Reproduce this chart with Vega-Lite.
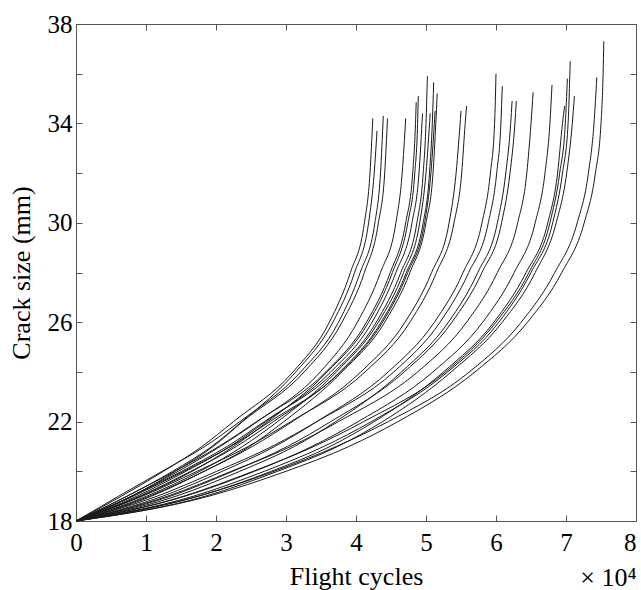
{
"$schema": "https://vega.github.io/schema/vega-lite/v6.json",
"width": 560, "height": 497,
"autosize": {"type": "none"},
"padding": {"left": 76, "top": 24, "right": 5, "bottom": 69},
"background": "white",
"config": {
  "view": {"stroke": "#555", "strokeWidth": 1},
  "font": "Liberation Serif",
  "axis": {"grid": false, "labelFont": "Liberation Serif", "titleFont": "Liberation Serif", "labelFontSize": 25, "titleFontSize": 26, "labelColor": "black", "titleColor": "black", "titleFontWeight": "normal", "domainColor": "#555", "tickColor": "#555", "tickSize": -6}
},
"data": {"values": [
{"c":1,"n":0,"a":18},{"c":1,"n":0.65,"a":19},{"c":1,"n":1.25,"a":20},{"c":1,"n":1.80,"a":21},{"c":1,"n":2.25,"a":22},{"c":1,"n":3.10,"a":24},{"c":1,"n":3.62,"a":26},{"c":1,"n":3.92,"a":28},{"c":1,"n":4.12,"a":30},{"c":1,"n":4.20,"a":32},{"c":1,"n":4.24,"a":34.2},
{"c":2,"n":0,"a":18},{"c":2,"n":0.73,"a":19},{"c":2,"n":1.38,"a":20},{"c":2,"n":1.94,"a":21},{"c":2,"n":2.37,"a":22},{"c":2,"n":3.14,"a":24},{"c":2,"n":3.67,"a":26},{"c":2,"n":3.98,"a":28},{"c":2,"n":4.18,"a":30},{"c":2,"n":4.26,"a":32},{"c":2,"n":4.30,"a":33.7},
{"c":3,"n":0,"a":18},{"c":3,"n":0.61,"a":19},{"c":3,"n":1.23,"a":20},{"c":3,"n":1.84,"a":21},{"c":3,"n":2.34,"a":22},{"c":3,"n":3.21,"a":24},{"c":3,"n":3.75,"a":26},{"c":3,"n":4.06,"a":28},{"c":3,"n":4.27,"a":30},{"c":3,"n":4.35,"a":32},{"c":3,"n":4.39,"a":34.3},
{"c":4,"n":0,"a":18},{"c":4,"n":0.80,"a":19},{"c":4,"n":1.42,"a":20},{"c":4,"n":1.96,"a":21},{"c":4,"n":2.38,"a":22},{"c":4,"n":3.26,"a":24},{"c":4,"n":3.80,"a":26},{"c":4,"n":4.12,"a":28},{"c":4,"n":4.32,"a":30},{"c":4,"n":4.41,"a":32},{"c":4,"n":4.45,"a":34.2},
{"c":5,"n":0,"a":18},{"c":5,"n":0.79,"a":19},{"c":5,"n":1.46,"a":20},{"c":5,"n":2.06,"a":21},{"c":5,"n":2.59,"a":22},{"c":5,"n":3.49,"a":24},{"c":5,"n":4.02,"a":26},{"c":5,"n":4.35,"a":28},{"c":5,"n":4.57,"a":30},{"c":5,"n":4.66,"a":32},{"c":5,"n":4.71,"a":34.2},
{"c":6,"n":0,"a":18},{"c":6,"n":0.73,"a":19},{"c":6,"n":1.41,"a":20},{"c":6,"n":2.04,"a":21},{"c":6,"n":2.58,"a":22},{"c":6,"n":3.57,"a":24},{"c":6,"n":4.15,"a":26},{"c":6,"n":4.49,"a":28},{"c":6,"n":4.71,"a":30},{"c":6,"n":4.81,"a":32},{"c":6,"n":4.85,"a":34},{"c":6,"n":4.86,"a":34.85},
{"c":7,"n":0,"a":18},{"c":7,"n":0.93,"a":19},{"c":7,"n":1.66,"a":20},{"c":7,"n":2.25,"a":21},{"c":7,"n":2.74,"a":22},{"c":7,"n":3.59,"a":24},{"c":7,"n":4.18,"a":26},{"c":7,"n":4.52,"a":28},{"c":7,"n":4.74,"a":30},{"c":7,"n":4.84,"a":32},{"c":7,"n":4.88,"a":34},{"c":7,"n":4.89,"a":35.1},
{"c":8,"n":0,"a":18},{"c":8,"n":0.87,"a":19},{"c":8,"n":1.57,"a":20},{"c":8,"n":2.20,"a":21},{"c":8,"n":2.71,"a":22},{"c":8,"n":3.64,"a":24},{"c":8,"n":4.23,"a":26},{"c":8,"n":4.57,"a":28},{"c":8,"n":4.80,"a":30},{"c":8,"n":4.90,"a":32},{"c":8,"n":4.95,"a":34.4},
{"c":9,"n":0,"a":18},{"c":9,"n":0.80,"a":19},{"c":9,"n":1.51,"a":20},{"c":9,"n":2.16,"a":21},{"c":9,"n":2.69,"a":22},{"c":9,"n":3.69,"a":24},{"c":9,"n":4.29,"a":26},{"c":9,"n":4.64,"a":28},{"c":9,"n":4.87,"a":30},{"c":9,"n":4.96,"a":32},{"c":9,"n":5.00,"a":34},{"c":9,"n":5.02,"a":35.9},
{"c":10,"n":0,"a":18},{"c":10,"n":1.01,"a":19},{"c":10,"n":1.77,"a":20},{"c":10,"n":2.38,"a":21},{"c":10,"n":2.88,"a":22},{"c":10,"n":3.72,"a":24},{"c":10,"n":4.32,"a":26},{"c":10,"n":4.68,"a":28},{"c":10,"n":4.91,"a":30},{"c":10,"n":5.00,"a":32},{"c":10,"n":5.06,"a":34.4},
{"c":11,"n":0,"a":18},{"c":11,"n":0.91,"a":19},{"c":11,"n":1.64,"a":20},{"c":11,"n":2.29,"a":21},{"c":11,"n":2.82,"a":22},{"c":11,"n":3.77,"a":24},{"c":11,"n":4.36,"a":26},{"c":11,"n":4.72,"a":28},{"c":11,"n":4.96,"a":30},{"c":11,"n":5.05,"a":32},{"c":11,"n":5.09,"a":34},{"c":11,"n":5.11,"a":35.65},
{"c":12,"n":0,"a":18},{"c":12,"n":0.82,"a":19},{"c":12,"n":1.54,"a":20},{"c":12,"n":2.21,"a":21},{"c":12,"n":2.77,"a":22},{"c":12,"n":3.78,"a":24},{"c":12,"n":4.38,"a":26},{"c":12,"n":4.74,"a":28},{"c":12,"n":4.98,"a":30},{"c":12,"n":5.07,"a":32},{"c":12,"n":5.13,"a":34.5},
{"c":13,"n":0,"a":18},{"c":13,"n":1.08,"a":19},{"c":13,"n":1.83,"a":20},{"c":13,"n":2.48,"a":21},{"c":13,"n":2.97,"a":22},{"c":13,"n":3.80,"a":24},{"c":13,"n":4.41,"a":26},{"c":13,"n":4.77,"a":28},{"c":13,"n":5.00,"a":30},{"c":13,"n":5.10,"a":32},{"c":13,"n":5.14,"a":34},{"c":13,"n":5.16,"a":35.2},
{"c":14,"n":0,"a":18},{"c":14,"n":1.05,"a":19},{"c":14,"n":1.83,"a":20},{"c":14,"n":2.52,"a":21},{"c":14,"n":3.09,"a":22},{"c":14,"n":4.07,"a":24},{"c":14,"n":4.70,"a":26},{"c":14,"n":5.08,"a":28},{"c":14,"n":5.33,"a":30},{"c":14,"n":5.43,"a":32},{"c":14,"n":5.50,"a":34.5},
{"c":15,"n":0,"a":18},{"c":15,"n":0.95,"a":19},{"c":15,"n":1.73,"a":20},{"c":15,"n":2.46,"a":21},{"c":15,"n":3.07,"a":22},{"c":15,"n":4.13,"a":24},{"c":15,"n":4.77,"a":26},{"c":15,"n":5.15,"a":28},{"c":15,"n":5.40,"a":30},{"c":15,"n":5.51,"a":32},{"c":15,"n":5.56,"a":34},{"c":15,"n":5.58,"a":34.7},
{"c":16,"n":0,"a":18},{"c":16,"n":1.24,"a":19},{"c":16,"n":2.09,"a":20},{"c":16,"n":2.84,"a":21},{"c":16,"n":3.44,"a":22},{"c":16,"n":4.46,"a":24},{"c":16,"n":5.12,"a":26},{"c":16,"n":5.53,"a":28},{"c":16,"n":5.80,"a":30},{"c":16,"n":5.92,"a":32},{"c":16,"n":5.98,"a":34},{"c":16,"n":6.00,"a":36.0},
{"c":17,"n":0,"a":18},{"c":17,"n":1.16,"a":19},{"c":17,"n":2.01,"a":20},{"c":17,"n":2.80,"a":21},{"c":17,"n":3.44,"a":22},{"c":17,"n":4.54,"a":24},{"c":17,"n":5.20,"a":26},{"c":17,"n":5.61,"a":28},{"c":17,"n":5.89,"a":30},{"c":17,"n":6.01,"a":32},{"c":17,"n":6.07,"a":34},{"c":17,"n":6.09,"a":35.5},
{"c":18,"n":0,"a":18},{"c":18,"n":1.43,"a":19},{"c":18,"n":2.34,"a":20},{"c":18,"n":3.12,"a":21},{"c":18,"n":3.71,"a":22},{"c":18,"n":4.65,"a":24},{"c":18,"n":5.32,"a":26},{"c":18,"n":5.74,"a":28},{"c":18,"n":6.02,"a":30},{"c":18,"n":6.14,"a":32},{"c":18,"n":6.21,"a":34},{"c":18,"n":6.23,"a":34.9},
{"c":19,"n":0,"a":18},{"c":19,"n":1.35,"a":19},{"c":19,"n":2.24,"a":20},{"c":19,"n":3.02,"a":21},{"c":19,"n":3.64,"a":22},{"c":19,"n":4.69,"a":24},{"c":19,"n":5.37,"a":26},{"c":19,"n":5.80,"a":28},{"c":19,"n":6.08,"a":30},{"c":19,"n":6.20,"a":32},{"c":19,"n":6.27,"a":34},{"c":19,"n":6.29,"a":34.9},
{"c":20,"n":0,"a":18},{"c":20,"n":1.31,"a":19},{"c":20,"n":2.22,"a":20},{"c":20,"n":3.07,"a":21},{"c":20,"n":3.75,"a":22},{"c":20,"n":4.88,"a":24},{"c":20,"n":5.58,"a":26},{"c":20,"n":6.02,"a":28},{"c":20,"n":6.31,"a":30},{"c":20,"n":6.44,"a":32},{"c":20,"n":6.50,"a":34},{"c":20,"n":6.53,"a":35.25},
{"c":21,"n":0,"a":18},{"c":21,"n":1.56,"a":19},{"c":21,"n":2.55,"a":20},{"c":21,"n":3.37,"a":21},{"c":21,"n":4.03,"a":22},{"c":21,"n":5.10,"a":24},{"c":21,"n":5.81,"a":26},{"c":21,"n":6.26,"a":28},{"c":21,"n":6.56,"a":30},{"c":21,"n":6.70,"a":32},{"c":21,"n":6.77,"a":34},{"c":21,"n":6.80,"a":35.55},
{"c":22,"n":0,"a":18},{"c":22,"n":1.75,"a":19},{"c":22,"n":2.79,"a":20},{"c":22,"n":3.63,"a":21},{"c":22,"n":4.26,"a":22},{"c":22,"n":5.25,"a":24},{"c":22,"n":5.97,"a":26},{"c":22,"n":6.43,"a":28},{"c":22,"n":6.74,"a":30},{"c":22,"n":6.88,"a":32},{"c":22,"n":6.95,"a":34},{"c":22,"n":6.98,"a":34.7},
{"c":23,"n":0,"a":18},{"c":23,"n":1.54,"a":19},{"c":23,"n":2.53,"a":20},{"c":23,"n":3.40,"a":21},{"c":23,"n":4.11,"a":22},{"c":23,"n":5.28,"a":24},{"c":23,"n":6.00,"a":26},{"c":23,"n":6.47,"a":28},{"c":23,"n":6.77,"a":30},{"c":23,"n":6.91,"a":32},{"c":23,"n":6.99,"a":34},{"c":23,"n":7.02,"a":35.8},
{"c":24,"n":0,"a":18},{"c":24,"n":1.68,"a":19},{"c":24,"n":2.69,"a":20},{"c":24,"n":3.54,"a":21},{"c":24,"n":4.22,"a":22},{"c":24,"n":5.31,"a":24},{"c":24,"n":6.04,"a":26},{"c":24,"n":6.50,"a":28},{"c":24,"n":6.81,"a":30},{"c":24,"n":6.95,"a":32},{"c":24,"n":7.03,"a":34},{"c":24,"n":7.06,"a":36.5},
{"c":25,"n":0,"a":18},{"c":25,"n":1.85,"a":19},{"c":25,"n":2.88,"a":20},{"c":25,"n":3.74,"a":21},{"c":25,"n":4.38,"a":22},{"c":25,"n":5.36,"a":24},{"c":25,"n":6.09,"a":26},{"c":25,"n":6.56,"a":28},{"c":25,"n":6.86,"a":30},{"c":25,"n":7.01,"a":32},{"c":25,"n":7.09,"a":34},{"c":25,"n":7.12,"a":35.1},
{"c":26,"n":0,"a":18},{"c":26,"n":1.75,"a":19},{"c":26,"n":2.83,"a":20},{"c":26,"n":3.72,"a":21},{"c":26,"n":4.46,"a":22},{"c":26,"n":5.62,"a":24},{"c":26,"n":6.36,"a":26},{"c":26,"n":6.84,"a":28},{"c":26,"n":7.16,"a":30},{"c":26,"n":7.32,"a":32},{"c":26,"n":7.40,"a":34},{"c":26,"n":7.44,"a":35.85},
{"c":27,"n":0,"a":18},{"c":27,"n":1.90,"a":19},{"c":27,"n":3.00,"a":20},{"c":27,"n":3.90,"a":21},{"c":27,"n":4.60,"a":22},{"c":27,"n":5.70,"a":24},{"c":27,"n":6.45,"a":26},{"c":27,"n":6.94,"a":28},{"c":27,"n":7.26,"a":30},{"c":27,"n":7.42,"a":32},{"c":27,"n":7.50,"a":34},{"c":27,"n":7.53,"a":36},{"c":27,"n":7.54,"a":37.3}
]},
"layer": [
  {
    "mark": {"type": "line", "interpolate": "monotone", "color": "#1a1a1a", "strokeWidth": 1},
    "encoding": {
      "x": {"field": "n", "type": "quantitative", "scale": {"domain": [0, 8], "nice": false, "zero": false},
        "axis": {"orient": "bottom", "title": "Flight cycles", "values": [0,1,2,3,4,5,6,7,8], "labelPadding": 15,
          "labelAlign": {"condition": {"test": "datum.value == 8", "value": "right"}, "value": "center"},
          "titleBaseline": "alphabetic", "titleY": 63}},
      "y": {"field": "a", "type": "quantitative", "scale": {"domain": [18, 38], "nice": false, "zero": false},
        "axis": {"orient": "left", "title": "Crack size (mm)", "values": [18,20,22,24,26,28,30,32,34,36,38], "labelPadding": 10,
          "labelExpr": "datum.value % 4 == 2 ? datum.label : ''", "titlePadding": 13}},
      "detail": {"field": "c", "type": "nominal"}
    }
  },
  {
    "mark": {"type": "line", "opacity": 0},
    "encoding": {
      "x": {"field": "n", "type": "quantitative", "axis": {"orient": "top", "labels": false, "title": null, "domain": false, "values": [0,1,2,3,4,5,6,7,8]}},
      "y": {"field": "a", "type": "quantitative", "axis": {"orient": "right", "labels": false, "title": null, "domain": false, "values": [18,20,22,24,26,28,30,32,34,36,38]}},
      "detail": {"field": "c", "type": "nominal"}
    }
  },
  {
    "mark": {"type": "line", "opacity": 0},
    "encoding": {
      "x": {"field": "n", "type": "quantitative", "axis": {"orient": "bottom", "labels": false, "ticks": false, "domain": false, "title": "× 10⁴", "titleX": 560, "titleY": 64, "titleAlign": "right", "titleBaseline": "alphabetic", "titleAnchor": null}},
      "y": {"field": "a", "type": "quantitative", "axis": null},
      "detail": {"field": "c", "type": "nominal"}
    }
  }
],
"resolve": {"scale": {"x": "shared", "y": "shared"}, "axis": {"x": "independent", "y": "independent"}}
}
